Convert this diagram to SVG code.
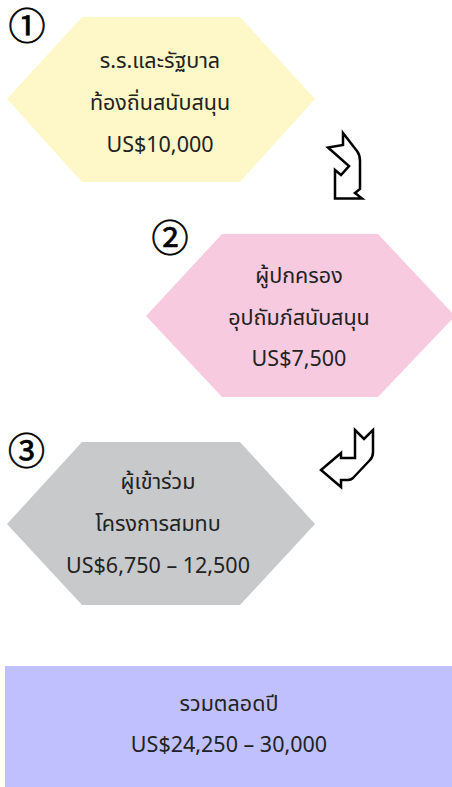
<svg xmlns="http://www.w3.org/2000/svg" width="452" height="787" viewBox="0 0 452 787">
<style>
.t{font-family:"Noto Sans Thai","Leelawadee UI","Noto Sans","DejaVu Sans",sans-serif;font-size:21.5px;fill:#222;text-anchor:middle}
.n{font-family:"Noto Sans CJK JP","DejaVu Serif",serif;font-size:37px;fill:#000;stroke:#000;stroke-width:0.7;text-anchor:middle}
.arr{fill:#fff;stroke:#000;stroke-width:2.5;stroke-linejoin:miter}
</style>
<rect width="452" height="787" fill="#fff"/>
<g id="node1">
<polygon points="7,99 82,17 240,17 315,99 240,182 82,182" fill="#FEF7C7"/>
<text class="n" x="27" y="40">①</text>
<text class="t" x="160" y="68">ร.ร.และรัฐบาล</text>
<text class="t" x="160" y="110">ท้องถิ่นสนับสนุน</text>
<text class="t" x="160" y="152">US$10,000</text>
</g>
<g id="node2">
<polygon points="146,316 222,234 378,234 455,316 378,397 222,397" fill="#F8CADF"/>
<text class="n" x="170" y="252">②</text>
<text class="t" x="299" y="283">ผู้ปกครอง</text>
<text class="t" x="299" y="325">อุปถัมภ์สนับสนุน</text>
<text class="t" x="299" y="366">US$7,500</text>
</g>
<g id="node3">
<polygon points="7,524 82,442 240,442 315,524 240,605 82,605" fill="#C8C9CB"/>
<text class="n" x="26.5" y="465">③</text>
<text class="t" x="158" y="489">ผู้เข้าร่วม</text>
<text class="t" x="158" y="531">โครงการสมทบ</text>
<text class="t" x="158" y="573">US$6,750 – 12,500</text>
</g>
<g id="total">
<rect x="5" y="666" width="447" height="121" fill="#C0C0FF"/>
<text class="t" x="229" y="711">รวมตลอดปี</text>
<text class="t" x="229" y="752">US$24,250 – 30,000</text>
</g>
<g id="connectors">
<path class="arr" d="M343,133 L357,151 Q360,155 360,161 L360,189 L355,193 L362,198.5 L335,198.5 L335,170 L341,175 L349,166 L328,147.5 L343,145 Z"/>
<path class="arr" d="M355,430 L364,439 L373,430 L373,452 Q373,457 370,460 L353,478 Q351,480 348,480 L341,480 L341,487 L321,470 L341,453 L341,458 L355,458 Z"/>
</g>
</svg>
